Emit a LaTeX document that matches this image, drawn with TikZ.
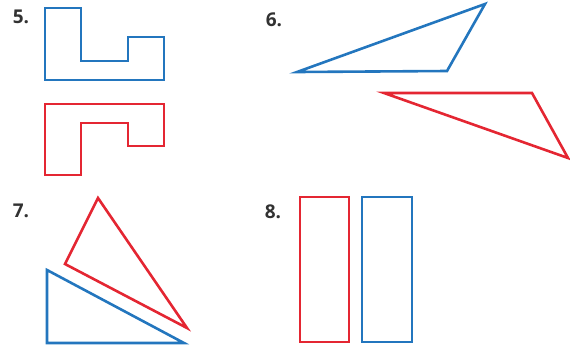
\documentclass[tikz,border=0pt]{standalone}
\usepackage{fontspec}
\setmainfont{Open Sans}
\definecolor{fblue}{RGB}{35,118,190}
\definecolor{fred}{RGB}{228,38,50}
\definecolor{lab}{RGB}{50,50,50}
\begin{document}
\begin{tikzpicture}[x=1pt,y=-1pt,
  bl/.style={draw=fblue,line width=2.6pt,line join=miter},
  rd/.style={draw=fred,line width=2.6pt,line join=miter},
  num/.style={text=lab,font=\fontsize{19}{19}\selectfont\bfseries,inner sep=0pt}]
\useasboundingbox (0,0) rectangle (570,349);
% labels
\node[num] (l5) at (21,17) {5.};
\node[num] (l6) at (274,20) {6.};
\node[num] (l7) at (21,211) {7.};
\node[num] (l8) at (273,212) {8.};
% 5
\draw[bl] (45,8) -- (81,8) -- (81,61) -- (128,61) -- (128,37) -- (164,37) -- (164,80) -- (45,80) -- cycle;
\draw[rd] (45,104) -- (164,104) -- (164,146) -- (128,146) -- (128,123) -- (81,123) -- (81,175) -- (45,175) -- cycle;
% 6
\draw[bl] (297,72) -- (447,71) -- (485,4) -- cycle;
\draw[rd] (384,93) -- (532,93) -- (568,158) -- cycle;
% 7
\draw[rd] (98,198) -- (65,264) -- (187,328) -- cycle;
\draw[bl] (47,270) -- (47,343) -- (184,343) -- cycle;
% 8
\draw[rd] (300,197) rectangle (349,342);
\draw[bl] (362,197) rectangle (412,342);
\end{tikzpicture}
\end{document}
